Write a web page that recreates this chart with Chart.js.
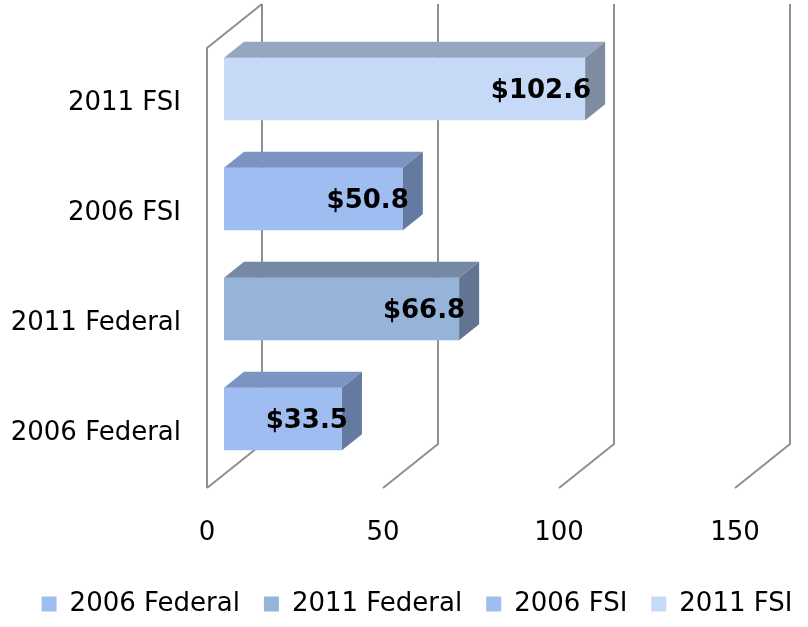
<!DOCTYPE html>
<html>
<head>
<meta charset="utf-8">
<script src="https://cdn.jsdelivr.net/npm/chart.js@4.4.1/dist/chart.umd.min.js"></script>
<style>
  html, body { margin: 0; padding: 0; background: #fff; }
  #wrap { width: 808px; height: 627px; }
</style>
</head>
<body>
<div id="wrap"><canvas id="barChart" width="808" height="627"></canvas></div>
<script>
// categories bottom to top, one series per category
const categories = ["2006 Federal", "2011 Federal", "2006 FSI", "2011 FSI"];
const seriesNames = ["2006 Federal", "2011 Federal", "2006 FSI", "2011 FSI"];
const seriesValues = [33.5, 66.8, 50.8, 102.6];
const xTicks = [0, 50, 100, 150];

// front / top / side colours per series
const frontColors = ["#A0BDF2", "#96B4D9", "#A0BDF2", "#C6D9F7"];
const topColors = ["#7B94C2", "#7589A6", "#7B94C2", "#96A6BF"];
const sideColors = ["#647AA0", "#617590", "#647AA0", "#7E8BA1"];

const FONT = "'DejaVu Sans', Verdana, sans-serif";
const DEPTH_X = 20, DEPTH_Y = 16;     // bar depth
const FRONT_X = -17, FRONT_Y = 14;    // floor front edge offset from bar plane
const BACK_X = 38, BACK_Y = -30;      // back wall offset from bar plane

// walls and gridlines behind the bars
const wallsPlugin = {
  id: "walls",
  afterLayout(chart) {
    // legend sits a little right of centre in the original
    chart.legend.left += 13;
    chart.legend.right += 13;
  },
  beforeDatasetsDraw(chart) {
    const { ctx, chartArea, scales } = chart;
    const { top, bottom } = chartArea;
    ctx.save();
    ctx.strokeStyle = "#8f8f8f";
    ctx.lineWidth = 2;
    xTicks.forEach((t) => {
      const px = scales.x.getPixelForValue(t);
      ctx.beginPath();
      ctx.moveTo(px + FRONT_X, bottom + FRONT_Y);
      ctx.lineTo(px + BACK_X, bottom + BACK_Y);
      ctx.lineTo(px + BACK_X, top + BACK_Y);
      ctx.stroke();
    });
    // left side wall
    const x0 = scales.x.getPixelForValue(0);
    ctx.beginPath();
    ctx.moveTo(x0 + FRONT_X, bottom + FRONT_Y);
    ctx.lineTo(x0 + FRONT_X, top + FRONT_Y);
    ctx.lineTo(x0 + BACK_X, top + BACK_Y);
    ctx.stroke();
    ctx.restore();
  },
};

// top and side faces + value labels
const boxPlugin = {
  id: "boxes",
  afterDatasetsDraw(chart) {
    const { ctx } = chart;
    ctx.save();
    chart.data.datasets.forEach((ds, i) => {
      const meta = chart.getDatasetMeta(i);
      meta.data.forEach((bar, j) => {
        if (ds.data[j] == null) return;
        const { x, y, base, height } = bar.getProps(["x", "y", "base", "height"], true);
        const t = y - height / 2, b = y + height / 2;
        ctx.fillStyle = topColors[i];
        ctx.beginPath();
        ctx.moveTo(base, t);
        ctx.lineTo(base + DEPTH_X, t - DEPTH_Y);
        ctx.lineTo(x + DEPTH_X, t - DEPTH_Y);
        ctx.lineTo(x, t);
        ctx.closePath();
        ctx.fill();
        ctx.fillStyle = sideColors[i];
        ctx.beginPath();
        ctx.moveTo(x, t);
        ctx.lineTo(x + DEPTH_X, t - DEPTH_Y);
        ctx.lineTo(x + DEPTH_X, b - DEPTH_Y);
        ctx.lineTo(x, b);
        ctx.closePath();
        ctx.fill();

        ctx.fillStyle = "#000";
        ctx.font = "bold 26px " + FONT;
        ctx.textAlign = "right";
        ctx.textBaseline = "middle";
        ctx.fillText("$" + ds.data[j].toFixed(1), x + 6, y + 2);
      });
    });
    ctx.restore();
  },
};

const datasets = seriesNames.map((name, i) => ({
  label: name,
  data: categories.map((c, j) => (j === i ? seriesValues[i] : null)),
  backgroundColor: frontColors[i],
  borderWidth: 0,
  barPercentage: 0.57,
  categoryPercentage: 1,
  skipNull: true,
}));

new Chart(document.getElementById("barChart"), {
  type: "bar",
  data: { labels: categories, datasets },
  plugins: [wallsPlugin, boxPlugin],
  options: {
    indexAxis: "y",
    responsive: false,
    animation: false,
    layout: { padding: { top: 34, right: 0, left: 0, bottom: 0 } },
    scales: {
      x: {
        min: 0,
        max: 150,
        stacked: true,
        afterBuildTicks: (s) => { s.ticks = xTicks.map((v) => ({ value: v })); },
        afterFit: (s) => {
          s.height = 93;
          s.paddingLeft = 0;
          s.paddingRight = 0;
        },
        grid: { display: false, drawTicks: false },
        border: { display: false },
        ticks: {
          color: "#000",
          font: { family: FONT, size: 26 },
          padding: 44,
          labelOffset: -17,
        },
      },
      y: {
        reverse: true,
        stacked: true,
        afterFit: (s) => {
          s.width = 224;
          s.paddingTop = 0;
          s.paddingBottom = 0;
        },
        grid: { display: false, drawTicks: false },
        border: { display: false },
        ticks: {
          color: "#000",
          font: { family: FONT, size: 26 },
          padding: 43,
          labelOffset: 14,
        },
      },
      // empty right axis that reserves room for the 3D depth
      yRight: {
        position: "right",
        afterFit: (s) => { s.width = 56; },
        grid: { display: false, drawTicks: false },
        border: { display: false },
        ticks: { display: false },
      },
    },
    plugins: {
      legend: {
        position: "bottom",
        labels: {
          color: "#000",
          font: { family: FONT, size: 26 },
          boxWidth: 15,
          boxHeight: 15,
          padding: 24,
        },
      },
      tooltip: { enabled: false },
    },
  },
});
</script>
</body>
</html>
